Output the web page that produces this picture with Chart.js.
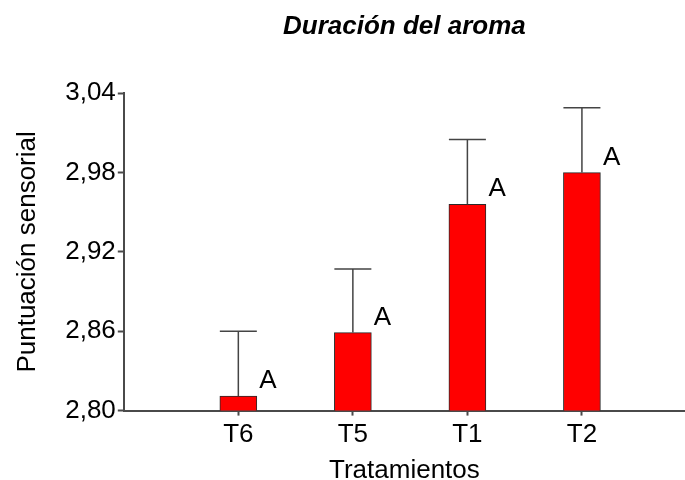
<!DOCTYPE html>
<html>
<head>
<meta charset="utf-8">
<script src="https://cdn.jsdelivr.net/npm/chart.js@4"></script>
<style>
  html, body { margin: 0; padding: 0; background: #fff; }
  #wrap { width: 685px; height: 480px; }
</style>
</head>
<body>
<div id="wrap"><canvas id="chart"></canvas></div>
<script>
// data
const categories = ["T6", "T5", "T1", "T2"];
const means = [2.811, 2.859, 2.956, 2.980];
const errors = [0.049, 0.048, 0.049, 0.049];
const letters = ["A", "A", "A", "A"];
const yTicks = [2.80, 2.86, 2.92, 2.98, 3.04];

const FONT = "'Liberation Sans', Arial, sans-serif";
const AXIS = "#4a4a4a";

// upward error whiskers and the letter next to each bar
const errorBars = {
  id: "errorBars",
  afterDatasetsDraw(chart) {
    const { ctx, scales } = chart;
    const meta = chart.getDatasetMeta(0);
    ctx.save();
    meta.data.forEach((bar, i) => {
      const x = bar.x;
      const top = scales.y.getPixelForValue(means[i] + errors[i]);
      const half = bar.width / 2;
      ctx.strokeStyle = "#444";
      ctx.lineWidth = 1.5;
      ctx.beginPath();
      ctx.moveTo(x, bar.y);
      ctx.lineTo(x, top);
      ctx.moveTo(x - half, top);
      ctx.lineTo(x + half, top);
      ctx.stroke();

      ctx.fillStyle = "#000";
      ctx.font = "26px " + FONT;
      ctx.textBaseline = "middle";
      ctx.textAlign = "left";
      ctx.fillText(letters[i], x + 21, bar.y - 15);
    });
    ctx.restore();
  },
};

new Chart(document.getElementById("chart"), {
  type: "bar",
  data: {
    datasets: [
      {
        data: categories.map((c, i) => ({ x: i + 1, y: means[i] })),
        backgroundColor: "#ff0000",
        borderColor: "#2a2a2a",
        borderWidth: 1,
        borderSkipped: false,
        barThickness: 37,
      },
    ],
  },
  options: {
    responsive: true,
    maintainAspectRatio: false,
    animation: false,
    layout: { padding: { left: 12, right: 0, top: 4, bottom: -6 } },
    plugins: {
      legend: { display: false },
      tooltip: { enabled: false },
      title: {
        display: true,
        text: "Duración del aroma",
        fullSize: false,
        color: "#000",
        font: { family: FONT, size: 26, style: "italic", weight: "bold" },
        padding: { top: 7, bottom: 51 },
      },
    },
    scales: {
      x: {
        type: "linear",
        min: 0,
        max: 4.9,
        offset: false,
        afterBuildTicks: (axis) => {
          axis.ticks = categories.map((c, i) => ({ value: i + 1 }));
        },
        grid: {
          offset: false,
          drawOnChartArea: false,
          drawTicks: true,
          tickLength: 5,
          tickWidth: 2,
          tickColor: AXIS,
        },
        border: { color: AXIS, width: 2 },
        ticks: {
          autoSkip: false,
          maxRotation: 0,
          padding: 4,
          color: "#000",
          font: { family: FONT, size: 26 },
          callback: (v) => categories[v - 1] || "",
        },
        title: {
          display: true,
          text: "Tratamientos",
          color: "#000",
          font: { family: FONT, size: 26 },
          padding: { top: 0, bottom: 0 },
        },
      },
      y: {
        min: 2.80,
        max: 3.04,
        afterBuildTicks: (axis) => {
          axis.ticks = yTicks.map((v) => ({ value: v }));
        },
        grid: {
          drawOnChartArea: false,
          drawTicks: true,
          tickLength: 6,
          tickWidth: 2,
          tickColor: AXIS,
        },
        border: { color: AXIS, width: 2 },
        ticks: {
          padding: 2,
          color: "#000",
          font: { family: FONT, size: 26 },
          callback: (v) => v.toFixed(2).replace(".", ","),
        },
        title: {
          display: true,
          text: "Puntuación sensorial",
          color: "#000",
          font: { family: FONT, size: 26 },
          padding: { top: 0, bottom: 20 },
        },
      },
    },
  },
  plugins: [errorBars],
});
</script>
</body>
</html>
